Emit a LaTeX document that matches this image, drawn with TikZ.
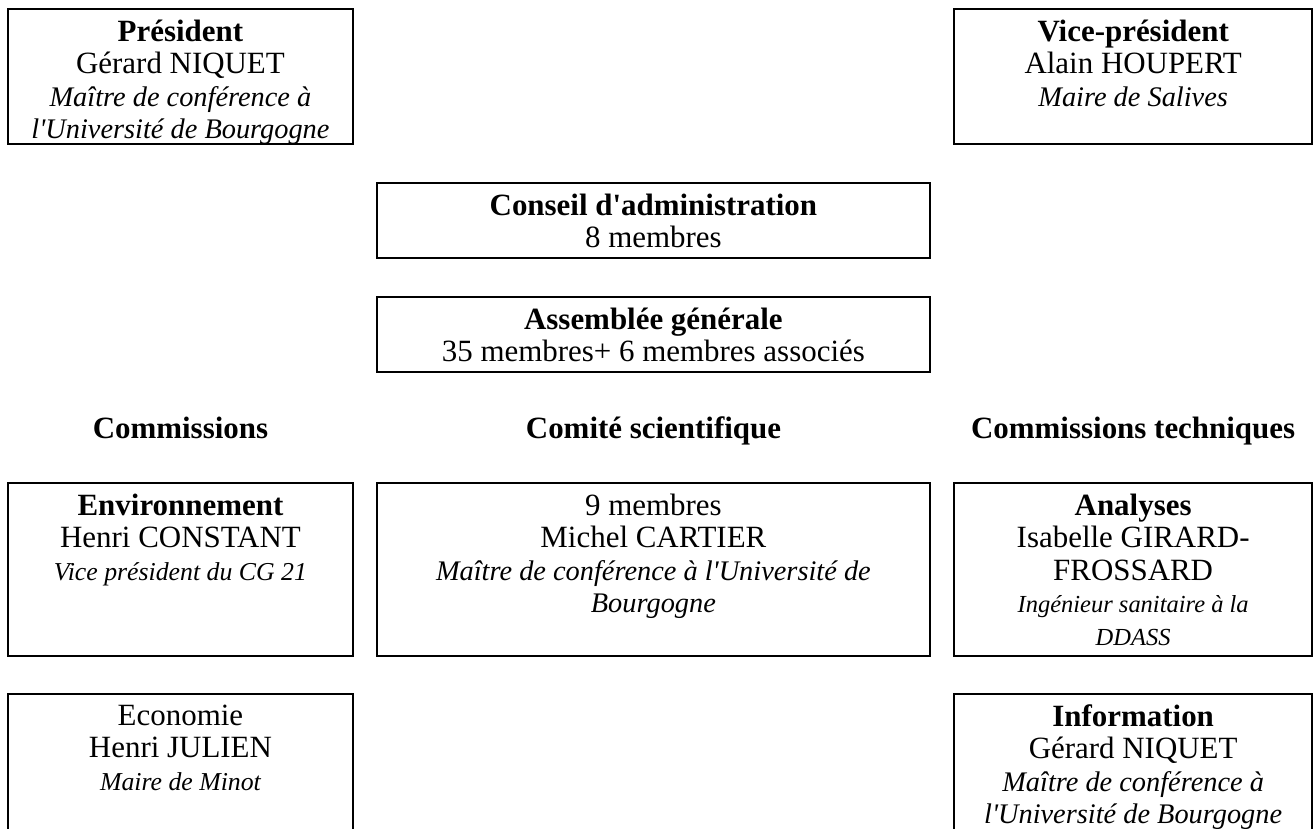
\documentclass[tikz,border=0pt]{standalone}
\usepackage{fontspec}
\setmainfont{Liberation Serif}
\usetikzlibrary{positioning}

\tikzset{
        every node/.style={inner sep=0pt,outer sep=0pt},
        cell/.style={draw,line width=1pt,anchor=north west},
        celltext/.style={align=center,font=\fontsize{12}{12.6}\selectfont,execute at begin node=\strut},
        heading/.style={anchor=base,font=\fontsize{12}{12.6}\selectfont\bfseries},
        }
\newcommand{\post}[2][11]{{\itshape\fontsize{#1}{12.6}\selectfont #2}}

\begin{document}
\begin{tikzpicture}[x=1pt,y=1pt]
			\useasboundingbox (0,0) rectangle (509.7,321.2);

			% president and vice-president
			\node [cell,minimum width=133.8pt,minimum height=52.4pt] (pres) at (3.1,317.7) {};
			\node [celltext,below=4.1pt of pres.north] (pres-txt) {\textbf{Président}\\ Gérard NIQUET\\ \post{Maître de conférence à}\\ \post{l\textquotesingle Université de Bourgogne}};
			\node [cell,minimum width=138.9pt,minimum height=52.4pt] (vice) at (370.1,317.7) {};
			\node [celltext,below=4.1pt of vice.north] (vice-txt) {\textbf{Vice-président}\\ Alain HOUPERT\\ \post{Maire de Salives}};

			% conseil and assemblee
			\node [cell,minimum width=214.5pt,minimum height=29.1pt] (conseil) at (146.2,250.2) {};
			\node [celltext,below=4.1pt of conseil.north] (conseil-txt) {\textbf{Conseil d\textquotesingle administration}\\ 8 membres};
			\node [cell,minimum width=214.5pt,minimum height=29.1pt] (ag) at (146.2,206.0) {};
			\node [celltext,below=4.1pt of ag.north] (ag-txt) {\textbf{Assemblée générale}\\ 35 membres+ 6 membres associés};

			% column headings
			\node [heading] (h-comm) at (70.0,151.2) {Commissions};
			\node [heading] (h-sci) at (253.5,151.2) {Comité scientifique};
			\node [heading] (h-tech) at (439.55,151.2) {Commissions techniques};

			% commissions, first row
			\node [cell,minimum width=133.8pt,minimum height=67.1pt] (env) at (3.1,133.8) {};
			\node [celltext,below=4.1pt of env.north] (env-txt) {\textbf{Environnement}\\ Henri CONSTANT\\ \post[10]{Vice président du CG 21}};
			\node [cell,minimum width=214.5pt,minimum height=67.1pt] (sci) at (146.2,133.8) {};
			\node [celltext,below=4.1pt of sci.north] (sci-txt) {9 membres\\ Michel CARTIER\\ \post{Maître de conférence à l\textquotesingle Université de}\\ \post{Bourgogne}};
			\node [cell,minimum width=138.9pt,minimum height=67.1pt] (ana) at (370.1,133.8) {};
			\node [celltext,below=4.1pt of ana.north] (ana-txt) {\textbf{Analyses}\\ Isabelle GIRARD-\\ FROSSARD\\ \post[9.5]{Ingénieur sanitaire à la}\\ \post[9.5]{DDASS}};

			% commissions, second row (cut by the page)
			\node [cell,minimum width=133.8pt,minimum height=55pt] (eco) at (3.1,52.0) {};
			\node [celltext,below=4.1pt of eco.north] (eco-txt) {Economie\\ Henri JULIEN\\ \post[10]{Maire de Minot}};
			\node [cell,minimum width=138.9pt,minimum height=55pt] (info) at (370.1,52.0) {};
			\node [celltext,below=4.1pt of info.north] (info-txt) {\textbf{Information}\\ Gérard NIQUET\\ \post{Maître de conférence à}\\ \post{l\textquotesingle Université de Bourgogne}};
		\end{tikzpicture}
\end{document}
